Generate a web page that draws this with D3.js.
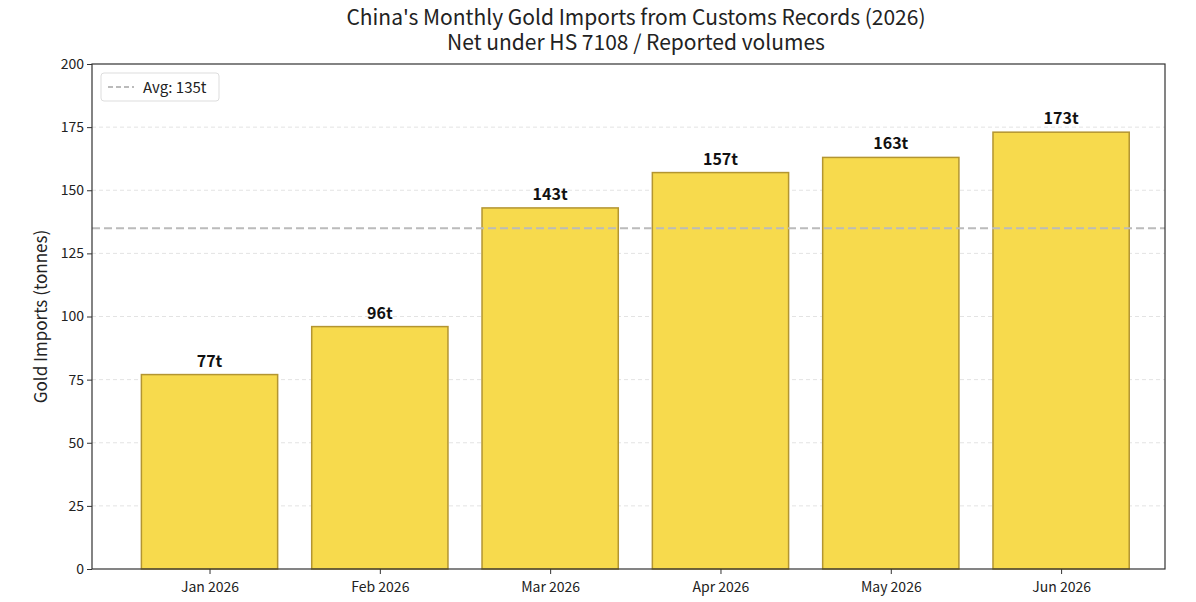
<!DOCTYPE html>
<html><head><meta charset="utf-8">
<script src="https://cdn.jsdelivr.net/npm/d3@7"></script>
<style>body{margin:0;background:#fff;font-family:"Noto Sans CJK JP","Noto Sans",sans-serif;}</style>
</head><body><div class="chart"></div>
<script>
var months = ["Jan 2026", "Feb 2026", "Mar 2026", "Apr 2026", "May 2026", "Jun 2026"];
var imports = [77, 96, 143, 157, 163, 173];
var yTicks = [0, 25, 50, 75, 100, 125, 150, 175, 200];
var avgValue = 135;

var svgWidth = 1196, svgHeight = 602;
var margin = {top: 64, right: 31, bottom: 33, left: 92};
var width = svgWidth - margin.left - margin.right;
var height = svgHeight - margin.top - margin.bottom;

var svg = d3.select(".chart").append("svg")
  .attr("width", svgWidth).attr("height", svgHeight);

svg.append("text").attr("x", 636).attr("y", 25).attr("text-anchor", "middle")
  .attr("font-size", "21px").attr("fill", "#222").text("China's Monthly Gold Imports from Customs Records (2026)");
svg.append("text").attr("x", 636).attr("y", 50).attr("text-anchor", "middle")
  .attr("font-size", "21px").attr("fill", "#222").text("Net under HS 7108 / Reported volumes");

var g = svg.append("g").attr("transform", `translate(${margin.left}, ${margin.top})`);

var x = d3.scaleLinear().domain([-0.69, 5.61]).range([0, width]);
var y = d3.scaleLinear().domain([0, 200]).range([height, 0]);
var bw = x(0.8) - x(0);

// grid
g.selectAll(".grid").data(yTicks.slice(1, -1)).enter().append("line")
  .attr("x1", 0).attr("x2", width)
  .attr("y1", d => y(d)).attr("y2", d => y(d))
  .attr("stroke", "#e3e3e3").attr("stroke-dasharray", "4,3");

// bars
g.selectAll("rect.bar").data(imports).enter().append("rect")
  .attr("x", (d, i) => x(i) - bw / 2).attr("width", bw)
  .attr("y", d => y(d)).attr("height", d => height - y(d))
  .attr("fill", "#f7da4d").attr("stroke", "#b39531").attr("stroke-width", 1.5);

g.selectAll("text.lbl").data(imports).enter().append("text")
  .attr("x", (d, i) => x(i)).attr("y", d => y(d) - 8)
  .attr("text-anchor", "middle").attr("font-size", "16px").attr("font-weight", "bold")
  .attr("fill", "#111").text(d => d + "t");

// avg line
g.append("line").attr("x1", 0).attr("x2", width)
  .attr("y1", y(avgValue)).attr("y2", y(avgValue))
  .attr("stroke", "#bbb").attr("stroke-width", 2).attr("stroke-dasharray", "8,4");

// axes
var xAxis = d3.axisBottom(x).tickValues(d3.range(months.length)).tickFormat(i => months[i]).tickSize(5);
var yAxis = d3.axisLeft(y).tickValues(yTicks).tickSize(5);
var xa = g.append("g").attr("transform", `translate(0, ${height})`).call(xAxis);
var ya = g.append("g").call(yAxis);
[xa, ya].forEach(a => {
  a.select(".domain").remove();
  a.selectAll("text").attr("font-size", "14px").attr("fill", "#222").attr("font-family", "Noto Sans CJK JP");
  a.selectAll("line").attr("stroke", "#333");
});
xa.selectAll("text").attr("dy", "1.1em");

g.append("rect").attr("width", width).attr("height", height)
  .attr("fill", "none").attr("stroke", "#333").attr("stroke-width", 1.2);

g.append("text").attr("transform", "rotate(-90)")
  .attr("x", -height / 2).attr("y", -45).attr("text-anchor", "middle")
  .attr("font-size", "17px").attr("fill", "#222").text("Gold Imports (tonnes)");

// legend
var lg = g.append("g").attr("transform", "translate(9, 9)");
lg.append("rect").attr("width", 118).attr("height", 28).attr("rx", 3)
  .attr("fill", "#fff").attr("stroke", "#ddd");
lg.append("line").attr("x1", 7).attr("x2", 33).attr("y1", 14).attr("y2", 14)
  .attr("stroke", "#bbb").attr("stroke-width", 2).attr("stroke-dasharray", "5,3");
lg.append("text").attr("x", 42).attr("y", 19.5).attr("font-size", "15px").attr("fill", "#222").text("Avg: " + avgValue + "t");
</script>
</body></html>
